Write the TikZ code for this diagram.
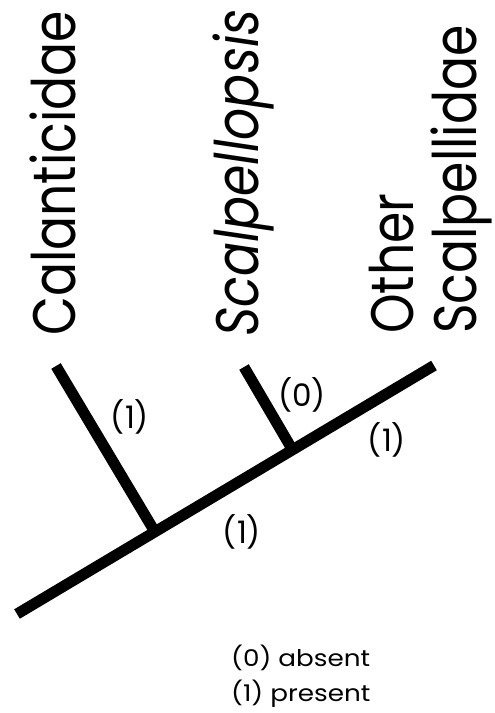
\documentclass[tikz,border=0pt]{standalone}
\usepackage{fontspec}
\setmainfont{Poppins}
\newfontfamily\taxfont{Poppins}[FakeStretch=0.84]
\newfontfamily\legfont{Poppins}[FakeStretch=1.14]
\begin{document}
\begin{tikzpicture}[x=1pt,y=-1pt,
  branch/.style={line width=11pt,line cap=butt},
  taxon/.style={rotate=90,anchor=base west,inner sep=0pt,font=\taxfont\fontsize{60}{62}\selectfont},
  state/.style={inner sep=0pt,font=\fontsize{31}{33}\selectfont},
  legend/.style={inner sep=0pt,anchor=base west,font=\legfont\fontsize{23}{25}\selectfont}]
\useasboundingbox (0,0) rectangle (495,713);
\coordinate (root) at (17,614);
\coordinate (tip) at (434,365.5);
\coordinate (n1) at (155,532);
\coordinate (n2) at (292,449);
\coordinate (cal) at (56,366);
\coordinate (sca) at (244,367);
\draw[branch] (root) -- (tip);
\draw[branch] (cal) -- (n1);
\draw[branch] (sca) -- (n2);
\node[taxon] (tcal) at (75,336) {Calanticidae};
\node[taxon] (tsca) at (258,337) {\itshape Scalpellopsis};
\node[taxon] (toth) at (413,334) {Other};
\node[taxon] (tscl) at (476,334) {Scalpellidae};
\node[state] (s1) at (130,417) {(1)};
\node[state] (s2) at (302,395) {(0)};
\node[state] (s3) at (387,440) {(1)};
\node[state] (s4) at (242,532) {(1)};
\node[legend] (l1) at (231,666) {(0) absent};
\node[legend] (l2) at (231,701) {(1) present};
\end{tikzpicture}
\end{document}
